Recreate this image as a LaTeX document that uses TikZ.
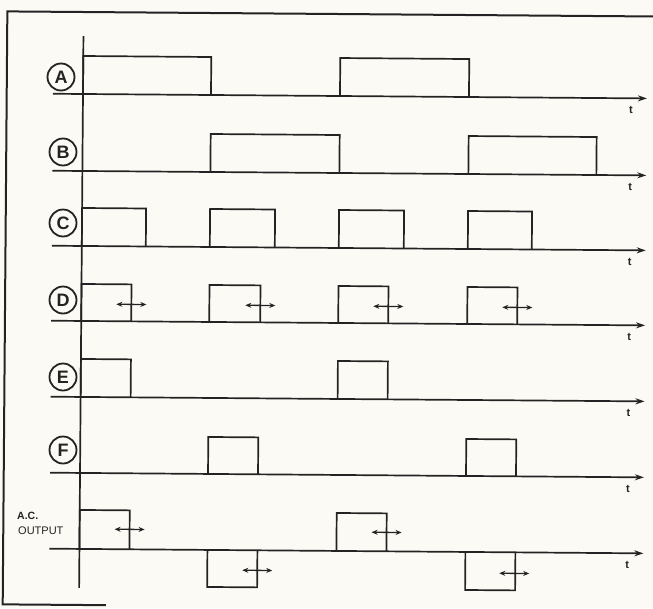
\documentclass[tikz,border=0pt]{standalone}
\usepackage{fontspec}
\setmainfont{Liberation Sans}
\usetikzlibrary{arrows.meta}
\definecolor{paper}{RGB}{252,250,244}
\definecolor{ink}{RGB}{35,35,35}
\newcommand\wpulse[4]{\draw[wave] (#1,#3) -- (#1,#3-#4) -- (#2,#3-#4) -- (#2,#3);}
\newcommand\wdim[2]{\draw[dimarrow] (#1-15,#2) -- (#1+15,#2);}
\begin{document}
\begin{tikzpicture}[x=1pt,y=-1pt,
  wave/.style={ink,line width=1.7pt,line join=miter},
  axisline/.style={ink,line width=1.7pt,-{Stealth[length=9pt,width=6pt]}},
  dimarrow/.style={ink,line width=1.3pt,{Stealth[length=6pt,width=5pt]}-{Stealth[length=6pt,width=5pt]}},
  sig/.style={circle,draw=ink,text=ink,line width=1.8pt,minimum size=27pt,inner sep=0pt,font=\fontsize{18}{18}\selectfont\bfseries},
  tlab/.style={text=ink,inner sep=0pt,font=\fontsize{11}{11}\selectfont\bfseries},
  aclab/.style={text=ink,inner sep=0pt,anchor=west}]
\useasboundingbox (0,0) rectangle (653,608);
\fill[paper] (0,0) rectangle (653,608);
\begin{scope}[rotate around={-0.45:(83,94)}]
  % frame
  \draw[ink,line width=2pt] (110,605) -- (6.7,605) -- (6.7,12) -- (660,12);
  % vertical axis
  \coordinate (vtop) at (83,36);
  \coordinate (vbot) at (83,588);
  \draw[ink,line width=1.7pt] (vtop) -- (vbot);
  % time axes
  \foreach \n/\b in {A/94,B/171,C/246,D/321,E/397,F/473,G/549}{
    \coordinate (s\n) at (53,\b);
    \coordinate (e\n) at (647,\b);
    \draw[axisline] (s\n) -- (e\n);
    \node[tlab] (t\n) at (631,\b+12) {t};
  }
  % A
  \wpulse{83}{211}{94}{38}
  \wpulse{340}{469}{94}{38}
  % B
  \wpulse{211}{340}{171}{38}
  \wpulse{469}{597}{171}{38}
  % C
  \wpulse{83}{147}{246}{38}
  \wpulse{211}{276}{246}{38}
  \wpulse{340}{405}{246}{38}
  \wpulse{469}{533}{246}{38}
  % D
  \wpulse{83}{133}{321}{37}
  \wpulse{211}{262}{321}{37}
  \wpulse{340}{390}{321}{37}
  \wpulse{469}{519}{321}{37}
  \wdim{133}{304}
  \wdim{262}{304}
  \wdim{390}{304}
  \wdim{519}{304}
  % E
  \wpulse{83}{133}{397}{38}
  \wpulse{340}{390}{397}{38}
  % F
  \wpulse{211}{261}{473}{37}
  \wpulse{469}{519}{473}{37}
  % AC output
  \wpulse{83}{133}{549}{39}
  \wpulse{211}{261}{549}{-37}
  \wpulse{340}{390}{549}{38}
  \wpulse{469}{519}{549}{-38}
  \wdim{133}{529}
  \wdim{261}{569}
  \wdim{390}{530}
  \wdim{518}{570}
\end{scope}
% signal labels
\node[sig] (lA) at (61,77) {A};
\node[sig] (lB) at (63,152) {B};
\node[sig] (lC) at (63,223) {C};
\node[sig] (lD) at (63,300) {D};
\node[sig] (lE) at (63,377) {E};
\node[sig] (lF) at (63,450) {F};
\node[aclab,font=\fontsize{10.5}{10.5}\selectfont\bfseries] (ac1) at (17,516) {A.C.};
\node[aclab,font=\fontsize{11}{11}\selectfont] (ac2) at (18,531) {OUTPUT};
\end{tikzpicture}
\end{document}
